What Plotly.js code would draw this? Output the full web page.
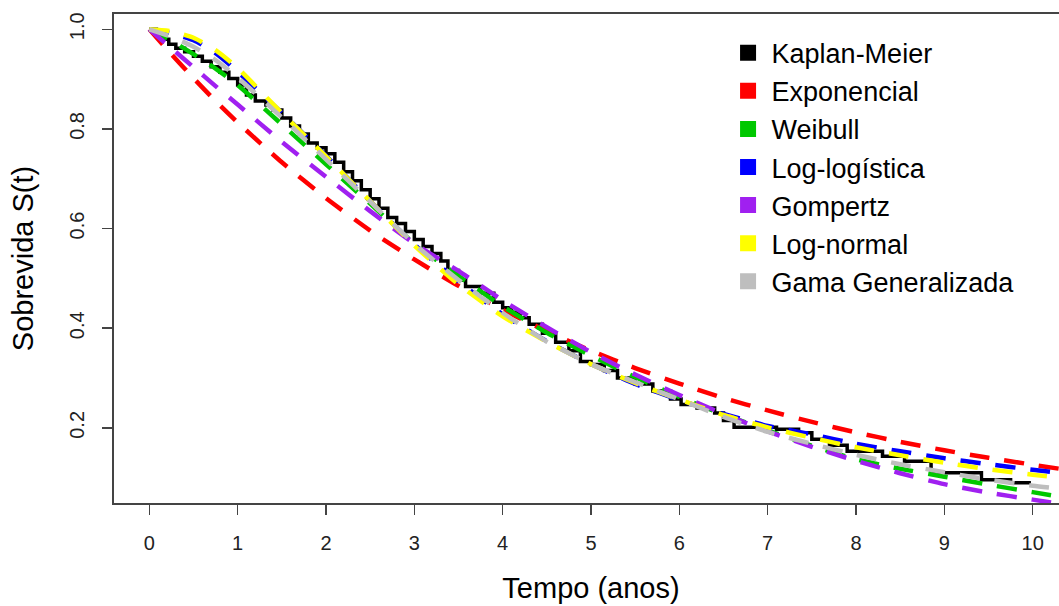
<!DOCTYPE html>
<html>
<head>
<meta charset="utf-8">
<script src="https://cdn.plot.ly/plotly-3.0.1.min.js"></script>
<style>
  html, body { margin: 0; padding: 0; overflow: hidden; background: #fff; }
  #chart { width: 1075px; height: 606px; }
</style>
</head>
<body>
<div id="chart"></div>
<script>
// ---- Data ----
const seriesNames = ["Kaplan-Meier", "Exponencial", "Weibull", "Log-logística", "Gompertz", "Log-normal", "Gama Generalizada"];
const seriesColors = ["#000000", "#FF0000", "#00C800", "#0000FF", "#A020F0", "#FFFF00", "#BEBEBE"];

// Kaplan-Meier step estimate (time in years, survival)
const kmTime = [0, 0.08, 0.15, 0.22, 0.3, 0.4, 0.5, 0.6, 0.7, 0.8, 0.9, 1.0, 1.1, 1.2, 1.32, 1.4, 1.5, 1.6, 1.7, 1.8, 1.9, 2.0, 2.1, 2.2, 2.3, 2.4, 2.5, 2.6, 2.7, 2.8, 2.9, 3.0, 3.1, 3.2, 3.3, 3.38, 3.5, 3.58, 3.75, 3.9, 4.0, 4.1, 4.2, 4.3, 4.45, 4.6, 4.75, 4.88, 5.0, 5.15, 5.3, 5.5, 5.7, 5.9, 6.02, 6.2, 6.4, 6.5, 6.62, 7.1, 7.35, 7.5, 7.7, 7.9, 8.3, 8.55, 8.85, 9.42, 9.75, 9.98];
const kmSurv = [1.0, 0.99, 0.98, 0.97, 0.962, 0.955, 0.946, 0.936, 0.925, 0.914, 0.901, 0.888, 0.868, 0.856, 0.848, 0.838, 0.822, 0.806, 0.79, 0.772, 0.762, 0.75, 0.733, 0.714, 0.696, 0.678, 0.66, 0.641, 0.622, 0.61, 0.594, 0.578, 0.564, 0.55, 0.535, 0.516, 0.497, 0.484, 0.47, 0.452, 0.441, 0.432, 0.421, 0.408, 0.39, 0.372, 0.355, 0.333, 0.327, 0.315, 0.3, 0.288, 0.274, 0.258, 0.247, 0.24, 0.23, 0.215, 0.201, 0.197, 0.19, 0.177, 0.165, 0.153, 0.143, 0.133, 0.11, 0.096, 0.09, 0.09];

// Parametric model curves, sampled times
const modelTime = [0, 0.25, 0.5, 0.75, 1, 1.5, 2, 2.5, 3, 3.5, 4, 4.5, 5, 5.5, 6, 6.5, 7, 7.5, 8, 8.5, 9, 9.5, 10, 10.3];
const sExponencial = [1, 0.950, 0.902, 0.856, 0.813, 0.733, 0.661, 0.596, 0.538, 0.485, 0.437, 0.394, 0.355, 0.320, 0.289, 0.260, 0.235, 0.212, 0.191, 0.172, 0.155, 0.140, 0.126, 0.118];
const sWeibull     = [1, 0.977, 0.950, 0.921, 0.888, 0.809, 0.729, 0.650, 0.570, 0.505, 0.444, 0.391, 0.345, 0.302, 0.262, 0.227, 0.195, 0.164, 0.137, 0.118, 0.102, 0.086, 0.071, 0.062];
const sLogLogist   = [1, 0.992, 0.978, 0.952, 0.915, 0.832, 0.746, 0.655, 0.568, 0.494, 0.428, 0.374, 0.328, 0.288, 0.256, 0.228, 0.204, 0.187, 0.168, 0.153, 0.139, 0.127, 0.116, 0.110];
const sGompertz    = [1, 0.962, 0.924, 0.886, 0.849, 0.774, 0.704, 0.635, 0.570, 0.515, 0.456, 0.402, 0.352, 0.307, 0.266, 0.228, 0.193, 0.162, 0.134, 0.109, 0.087, 0.070, 0.056, 0.048];
const sLogNormal   = [1, 0.996, 0.983, 0.958, 0.922, 0.832, 0.745, 0.655, 0.566, 0.488, 0.424, 0.373, 0.328, 0.290, 0.257, 0.226, 0.201, 0.180, 0.161, 0.145, 0.130, 0.117, 0.106, 0.100];
const sGenGamma    = [1, 0.985, 0.965, 0.938, 0.903, 0.823, 0.739, 0.654, 0.569, 0.497, 0.431, 0.373, 0.328, 0.292, 0.257, 0.222, 0.192, 0.168, 0.146, 0.127, 0.111, 0.096, 0.084, 0.078];

const xTicks = [0, 1, 2, 3, 4, 5, 6, 7, 8, 9, 10];
const yTicks = [0.2, 0.4, 0.6, 0.8, 1.0];
const yTickText = ["0.2", "0.4", "0.6", "0.8", "1.0"];

// ---- Traces ----
const modelSeries = [sExponencial, sWeibull, sLogLogist, sGompertz, sLogNormal, sGenGamma];
const traces = [];

traces.push({
  x: kmTime, y: kmSurv, type: "scatter", mode: "lines",
  line: {color: seriesColors[0], width: 3.5, shape: "hv"},
  showlegend: false, hoverinfo: "skip"
});

modelSeries.forEach((s, i) => {
  traces.push({
    x: modelTime, y: s, type: "scatter", mode: "lines",
    line: {color: seriesColors[i + 1], width: 4.5, dash: "20px,15px", shape: "spline", smoothing: 0.6},
    showlegend: false, hoverinfo: "skip"
  });
});

// legend entries (filled squares, as in the reference)
seriesNames.forEach((name, i) => {
  traces.push({
    x: [null], y: [null], type: "scatter", mode: "markers", name: name,
    marker: {symbol: "square", size: 16, color: seriesColors[i], line: {width: 0}},
    showlegend: true
  });
});

const axisFont = {family: "Liberation Sans, Arial, sans-serif", size: 20, color: "#222"};

const layout = {
  width: 1075, height: 606,
  margin: {l: 113.6, r: 6.6, t: 14, b: 102.5, pad: 0},
  paper_bgcolor: "#ffffff", plot_bgcolor: "#ffffff",
  font: {family: "Liberation Sans, Arial, sans-serif", color: "#000"},
  showlegend: true,
  legend: {
    x: 0.64, y: 0.970, xanchor: "left", yanchor: "top",
    bgcolor: "rgba(0,0,0,0)", borderwidth: 0, itemwidth: 37,
    font: {family: "Liberation Sans, Arial, sans-serif", size: 27, color: "#000"},
    itemclick: false, itemdoubleclick: false
  },
  xaxis: {
    range: [-0.4, 10.4],
    tickvals: xTicks, ticktext: xTicks.map(String),
    ticks: "outside", ticklen: 10, tickwidth: 1.5, tickcolor: "#444",
    showline: true, linecolor: "#444", linewidth: 1.6, mirror: true,
    showgrid: false, zeroline: false,
    tickfont: axisFont, ticklabelstandoff: 11,
    title: {text: "Tempo (anos)", font: {family: "Liberation Sans, Arial, sans-serif", size: 29, color: "#000"}, standoff: 25}
  },
  yaxis: {
    range: [0.0492, 1.0307],
    tickvals: yTicks, ticktext: yTickText, tickangle: -90,
    ticks: "outside", ticklen: 10, tickwidth: 1.5, tickcolor: "#444",
    showline: true, linecolor: "#444", linewidth: 1.6, mirror: true,
    showgrid: false, zeroline: false,
    tickfont: axisFont, ticklabelstandoff: 10,
    title: {text: "Sobrevida S(t)", font: {family: "Liberation Sans, Arial, sans-serif", size: 29, color: "#000"}, standoff: 24}
  }
};

Plotly.newPlot("chart", traces, layout, {displayModeBar: false, staticPlot: true});
</script>
</body>
</html>
